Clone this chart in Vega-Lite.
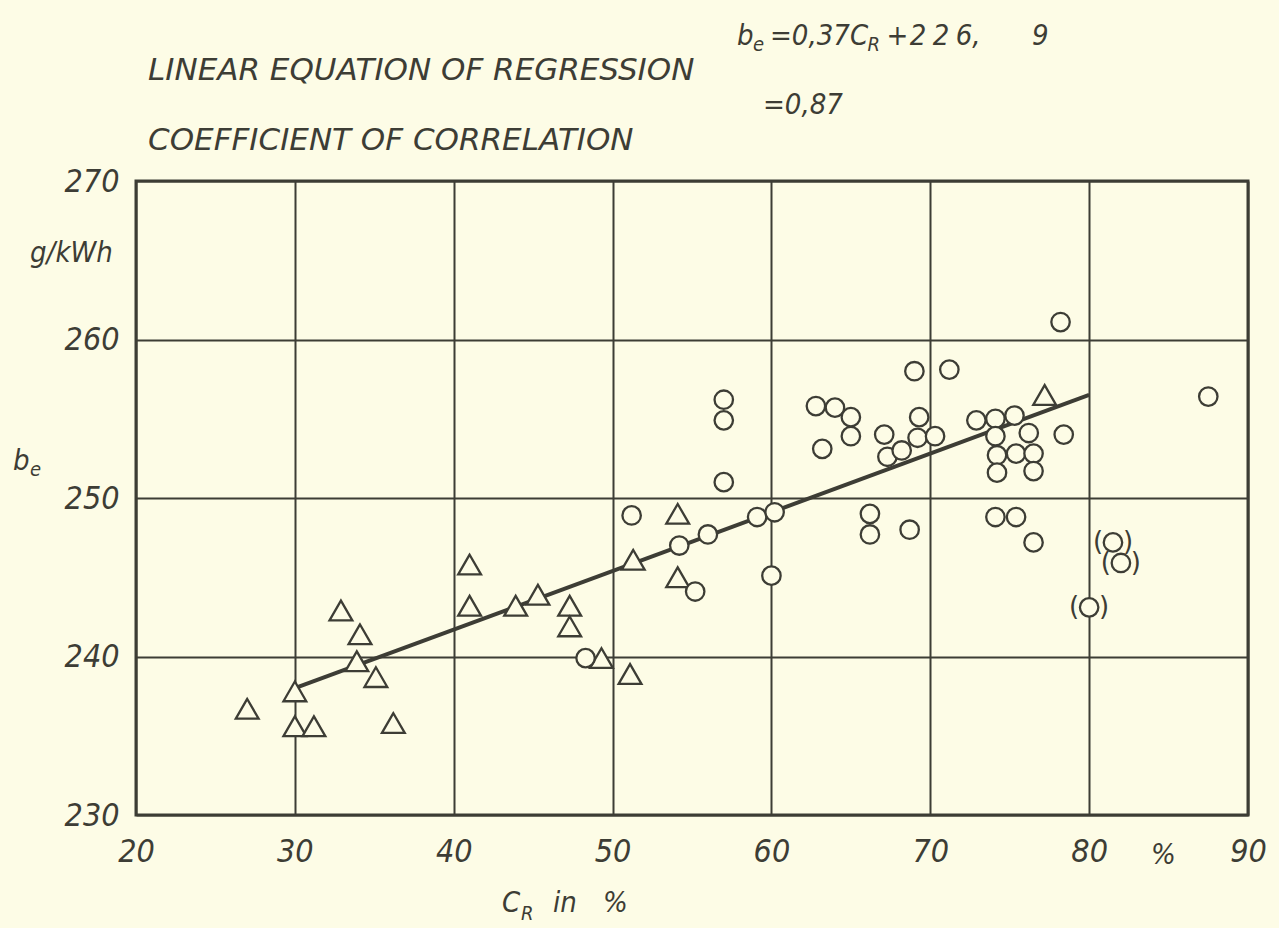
{
  "$schema": "https://vega.github.io/schema/vega-lite/v6.json",
  "width": 1112,
  "height": 634,
  "autosize": {"type": "none"},
  "padding": {"left": 136, "top": 181, "right": 31, "bottom": 113},
  "background": "#fdfce6",
  "config": {
    "view": {"stroke": "#3d3d35", "strokeWidth": 3},
    "font": "DejaVu Sans Condensed, Liberation Sans Narrow, DejaVu Sans",
    "axis": {
      "grid": true, "gridColor": "#3d3d35", "gridWidth": 2, "gridOpacity": 1,
      "domain": false, "ticks": false, "title": null,
      "labelFont": "DejaVu Sans Condensed, Liberation Sans Narrow, DejaVu Sans",
      "labelFontSize": 32, "labelFontStyle": "italic", "labelColor": "#3d3d35",
      "labelFlush": false, "labelOverlap": false
    }
  },
  "datasets": {
    "fit": [{"c": 30, "b": 238.0}, {"c": 80, "b": 256.5}],
    "points": [
      {"c": 27.0, "b": 236.7, "g": "triangle", "p": false},
      {"c": 30.0, "b": 237.8, "g": "triangle", "p": false},
      {"c": 30.0, "b": 235.6, "g": "triangle", "p": false},
      {"c": 31.2, "b": 235.6, "g": "triangle", "p": false},
      {"c": 32.9, "b": 242.9, "g": "triangle", "p": false},
      {"c": 34.1, "b": 241.4, "g": "triangle", "p": false},
      {"c": 33.9, "b": 239.7, "g": "triangle", "p": false},
      {"c": 35.1, "b": 238.7, "g": "triangle", "p": false},
      {"c": 36.2, "b": 235.8, "g": "triangle", "p": false},
      {"c": 41.0, "b": 245.8, "g": "triangle", "p": false},
      {"c": 41.0, "b": 243.2, "g": "triangle", "p": false},
      {"c": 43.9, "b": 243.2, "g": "triangle", "p": false},
      {"c": 45.3, "b": 243.9, "g": "triangle", "p": false},
      {"c": 47.3, "b": 243.2, "g": "triangle", "p": false},
      {"c": 47.3, "b": 241.9, "g": "triangle", "p": false},
      {"c": 49.3, "b": 239.9, "g": "triangle", "p": false},
      {"c": 51.1, "b": 238.9, "g": "triangle", "p": false},
      {"c": 51.3, "b": 246.1, "g": "triangle", "p": false},
      {"c": 54.1, "b": 249.0, "g": "triangle", "p": false},
      {"c": 54.1, "b": 245.0, "g": "triangle", "p": false},
      {"c": 77.2, "b": 256.5, "g": "triangle", "p": false},
      {"c": 48.3, "b": 239.9, "g": "circle", "p": false},
      {"c": 51.2, "b": 248.9, "g": "circle", "p": false},
      {"c": 54.2, "b": 247.0, "g": "circle", "p": false},
      {"c": 56.0, "b": 247.7, "g": "circle", "p": false},
      {"c": 59.1, "b": 248.8, "g": "circle", "p": false},
      {"c": 60.2, "b": 249.1, "g": "circle", "p": false},
      {"c": 60.0, "b": 245.1, "g": "circle", "p": false},
      {"c": 55.2, "b": 244.1, "g": "circle", "p": false},
      {"c": 57.0, "b": 256.2, "g": "circle", "p": false},
      {"c": 57.0, "b": 254.9, "g": "circle", "p": false},
      {"c": 57.0, "b": 251.0, "g": "circle", "p": false},
      {"c": 62.8, "b": 255.8, "g": "circle", "p": false},
      {"c": 64.0, "b": 255.7, "g": "circle", "p": false},
      {"c": 65.0, "b": 255.1, "g": "circle", "p": false},
      {"c": 65.0, "b": 253.9, "g": "circle", "p": false},
      {"c": 63.2, "b": 253.1, "g": "circle", "p": false},
      {"c": 67.1, "b": 254.0, "g": "circle", "p": false},
      {"c": 67.3, "b": 252.6, "g": "circle", "p": false},
      {"c": 68.2, "b": 253.0, "g": "circle", "p": false},
      {"c": 69.2, "b": 253.8, "g": "circle", "p": false},
      {"c": 69.3, "b": 255.1, "g": "circle", "p": false},
      {"c": 70.3, "b": 253.9, "g": "circle", "p": false},
      {"c": 69.0, "b": 258.0, "g": "circle", "p": false},
      {"c": 71.2, "b": 258.1, "g": "circle", "p": false},
      {"c": 66.2, "b": 249.0, "g": "circle", "p": false},
      {"c": 66.2, "b": 247.7, "g": "circle", "p": false},
      {"c": 68.7, "b": 248.0, "g": "circle", "p": false},
      {"c": 72.9, "b": 254.9, "g": "circle", "p": false},
      {"c": 74.1, "b": 255.0, "g": "circle", "p": false},
      {"c": 75.3, "b": 255.2, "g": "circle", "p": false},
      {"c": 74.1, "b": 253.9, "g": "circle", "p": false},
      {"c": 76.2, "b": 254.1, "g": "circle", "p": false},
      {"c": 78.4, "b": 254.0, "g": "circle", "p": false},
      {"c": 74.2, "b": 252.7, "g": "circle", "p": false},
      {"c": 75.4, "b": 252.8, "g": "circle", "p": false},
      {"c": 76.5, "b": 252.8, "g": "circle", "p": false},
      {"c": 74.2, "b": 251.6, "g": "circle", "p": false},
      {"c": 76.5, "b": 251.7, "g": "circle", "p": false},
      {"c": 74.1, "b": 248.8, "g": "circle", "p": false},
      {"c": 75.4, "b": 248.8, "g": "circle", "p": false},
      {"c": 76.5, "b": 247.2, "g": "circle", "p": false},
      {"c": 78.2, "b": 261.1, "g": "circle", "p": false},
      {"c": 87.5, "b": 256.4, "g": "circle", "p": false},
      {"c": 81.5, "b": 247.2, "g": "circle", "p": true},
      {"c": 82.0, "b": 245.9, "g": "circle", "p": true},
      {"c": 80.0, "b": 243.1, "g": "circle", "p": true}
    ],
    "notes": [
      {"c": 20.76, "b": 276.37, "t": "LINEAR EQUATION OF REGRESSION", "k": "caps"},
      {"c": 20.76, "b": 271.96, "t": "COEFFICIENT OF CORRELATION", "k": "caps"},
      {"c": 59.47, "b": 274.23, "t": "=0,87", "k": "main"},
      {"c": 57.83, "b": 278.58, "t": "b", "k": "main"},
      {"c": 58.84, "b": 278.20, "t": "e", "k": "sub"},
      {"c": 59.91, "b": 278.58, "t": "=0,37C", "k": "main"},
      {"c": 66.05, "b": 278.20, "t": "R", "k": "sub"},
      {"c": 67.25, "b": 278.58, "t": "+", "k": "main"},
      {"c": 68.70, "b": 278.58, "t": "2", "k": "main"},
      {"c": 70.15, "b": 278.58, "t": "2", "k": "main"},
      {"c": 71.60, "b": 278.58, "t": "6,", "k": "main"},
      {"c": 76.40, "b": 278.58, "t": "9", "k": "main"},
      {"c": 13.33, "b": 264.89, "t": "g/kWh", "k": "main"},
      {"c": 12.26, "b": 251.77, "t": "b", "k": "main"},
      {"c": 13.33, "b": 251.39, "t": "e", "k": "sub"},
      {"c": 43.04, "b": 223.88, "t": "C", "k": "main"},
      {"c": 44.24, "b": 223.37, "t": "R", "k": "sub"},
      {"c": 46.25, "b": 223.88, "t": "in", "k": "main"},
      {"c": 49.40, "b": 223.88, "t": "%", "k": "main"},
      {"c": 83.90, "b": 226.91, "t": "%", "k": "main"}
    ]
  },
  "layer": [
    {
      "data": {"name": "fit"},
      "mark": {"type": "line", "color": "#3d3d35", "strokeWidth": 4},
      "encoding": {
        "x": {"field": "c", "type": "quantitative", "scale": {"domain": [20, 90], "nice": false, "zero": false},
              "axis": {"values": [20, 30, 40, 50, 60, 70, 80, 90], "labelPadding": 21, "labelBaseline": "top"}},
        "y": {"field": "b", "type": "quantitative", "scale": {"domain": [230, 270], "nice": false, "zero": false},
              "axis": {"values": [230, 240, 250, 260, 270], "labelPadding": 17}}
      }
    },
    {
      "data": {"name": "points"},
      "mark": {"type": "point", "filled": true, "fill": "#fdfce6", "stroke": "#3d3d35", "strokeWidth": 2.3, "opacity": 1},
      "encoding": {
        "x": {"field": "c", "type": "quantitative", "scale": {"domain": [20, 90], "nice": false, "zero": false}},
        "y": {"field": "b", "type": "quantitative", "scale": {"domain": [230, 270], "nice": false, "zero": false}},
        "shape": {"field": "g", "type": "nominal", "scale": {"domain": ["circle", "triangle"], "range": ["circle", "triangle-up"]}, "legend": null},
        "size": {"field": "g", "type": "nominal", "scale": {"domain": ["circle", "triangle"], "range": [340, 520]}, "legend": null}
      }
    },
    {
      "data": {"name": "points"},
      "transform": [{"filter": "datum.p"}],
      "mark": {"type": "text", "text": "(", "dx": -15, "font": "DejaVu Sans", "fontSize": 26, "color": "#3d3d35", "baseline": "middle", "align": "center"},
      "encoding": {
        "x": {"field": "c", "type": "quantitative", "scale": {"domain": [20, 90], "nice": false, "zero": false}},
        "y": {"field": "b", "type": "quantitative", "scale": {"domain": [230, 270], "nice": false, "zero": false}}
      }
    },
    {
      "data": {"name": "points"},
      "transform": [{"filter": "datum.p"}],
      "mark": {"type": "text", "text": ")", "dx": 15, "font": "DejaVu Sans", "fontSize": 26, "color": "#3d3d35", "baseline": "middle", "align": "center"},
      "encoding": {
        "x": {"field": "c", "type": "quantitative", "scale": {"domain": [20, 90], "nice": false, "zero": false}},
        "y": {"field": "b", "type": "quantitative", "scale": {"domain": [230, 270], "nice": false, "zero": false}}
      }
    },
    {
      "data": {"name": "notes"},
      "transform": [{"filter": "datum.k === 'caps'"}],
      "mark": {"type": "text", "align": "left", "baseline": "alphabetic", "fontSize": 31, "fontStyle": "italic", "color": "#3d3d35", "font": "DejaVu Sans"},
      "encoding": {
        "x": {"field": "c", "type": "quantitative", "scale": {"domain": [20, 90], "nice": false, "zero": false}},
        "y": {"field": "b", "type": "quantitative", "scale": {"domain": [230, 270], "nice": false, "zero": false}},
        "text": {"field": "t"}
      }
    },
    {
      "data": {"name": "notes"},
      "transform": [{"filter": "datum.k === 'main'"}],
      "mark": {"type": "text", "align": "left", "baseline": "alphabetic", "fontSize": 29, "fontStyle": "italic", "color": "#3d3d35", "font": "DejaVu Sans Condensed, Liberation Sans Narrow, DejaVu Sans"},
      "encoding": {
        "x": {"field": "c", "type": "quantitative", "scale": {"domain": [20, 90], "nice": false, "zero": false}},
        "y": {"field": "b", "type": "quantitative", "scale": {"domain": [230, 270], "nice": false, "zero": false}},
        "text": {"field": "t"}
      }
    },
    {
      "data": {"name": "notes"},
      "transform": [{"filter": "datum.k === 'sub'"}],
      "mark": {"type": "text", "align": "left", "baseline": "alphabetic", "fontSize": 20, "fontStyle": "italic", "color": "#3d3d35", "font": "DejaVu Sans Condensed, Liberation Sans Narrow, DejaVu Sans"},
      "encoding": {
        "x": {"field": "c", "type": "quantitative", "scale": {"domain": [20, 90], "nice": false, "zero": false}},
        "y": {"field": "b", "type": "quantitative", "scale": {"domain": [230, 270], "nice": false, "zero": false}},
        "text": {"field": "t"}
      }
    }
  ]
}
